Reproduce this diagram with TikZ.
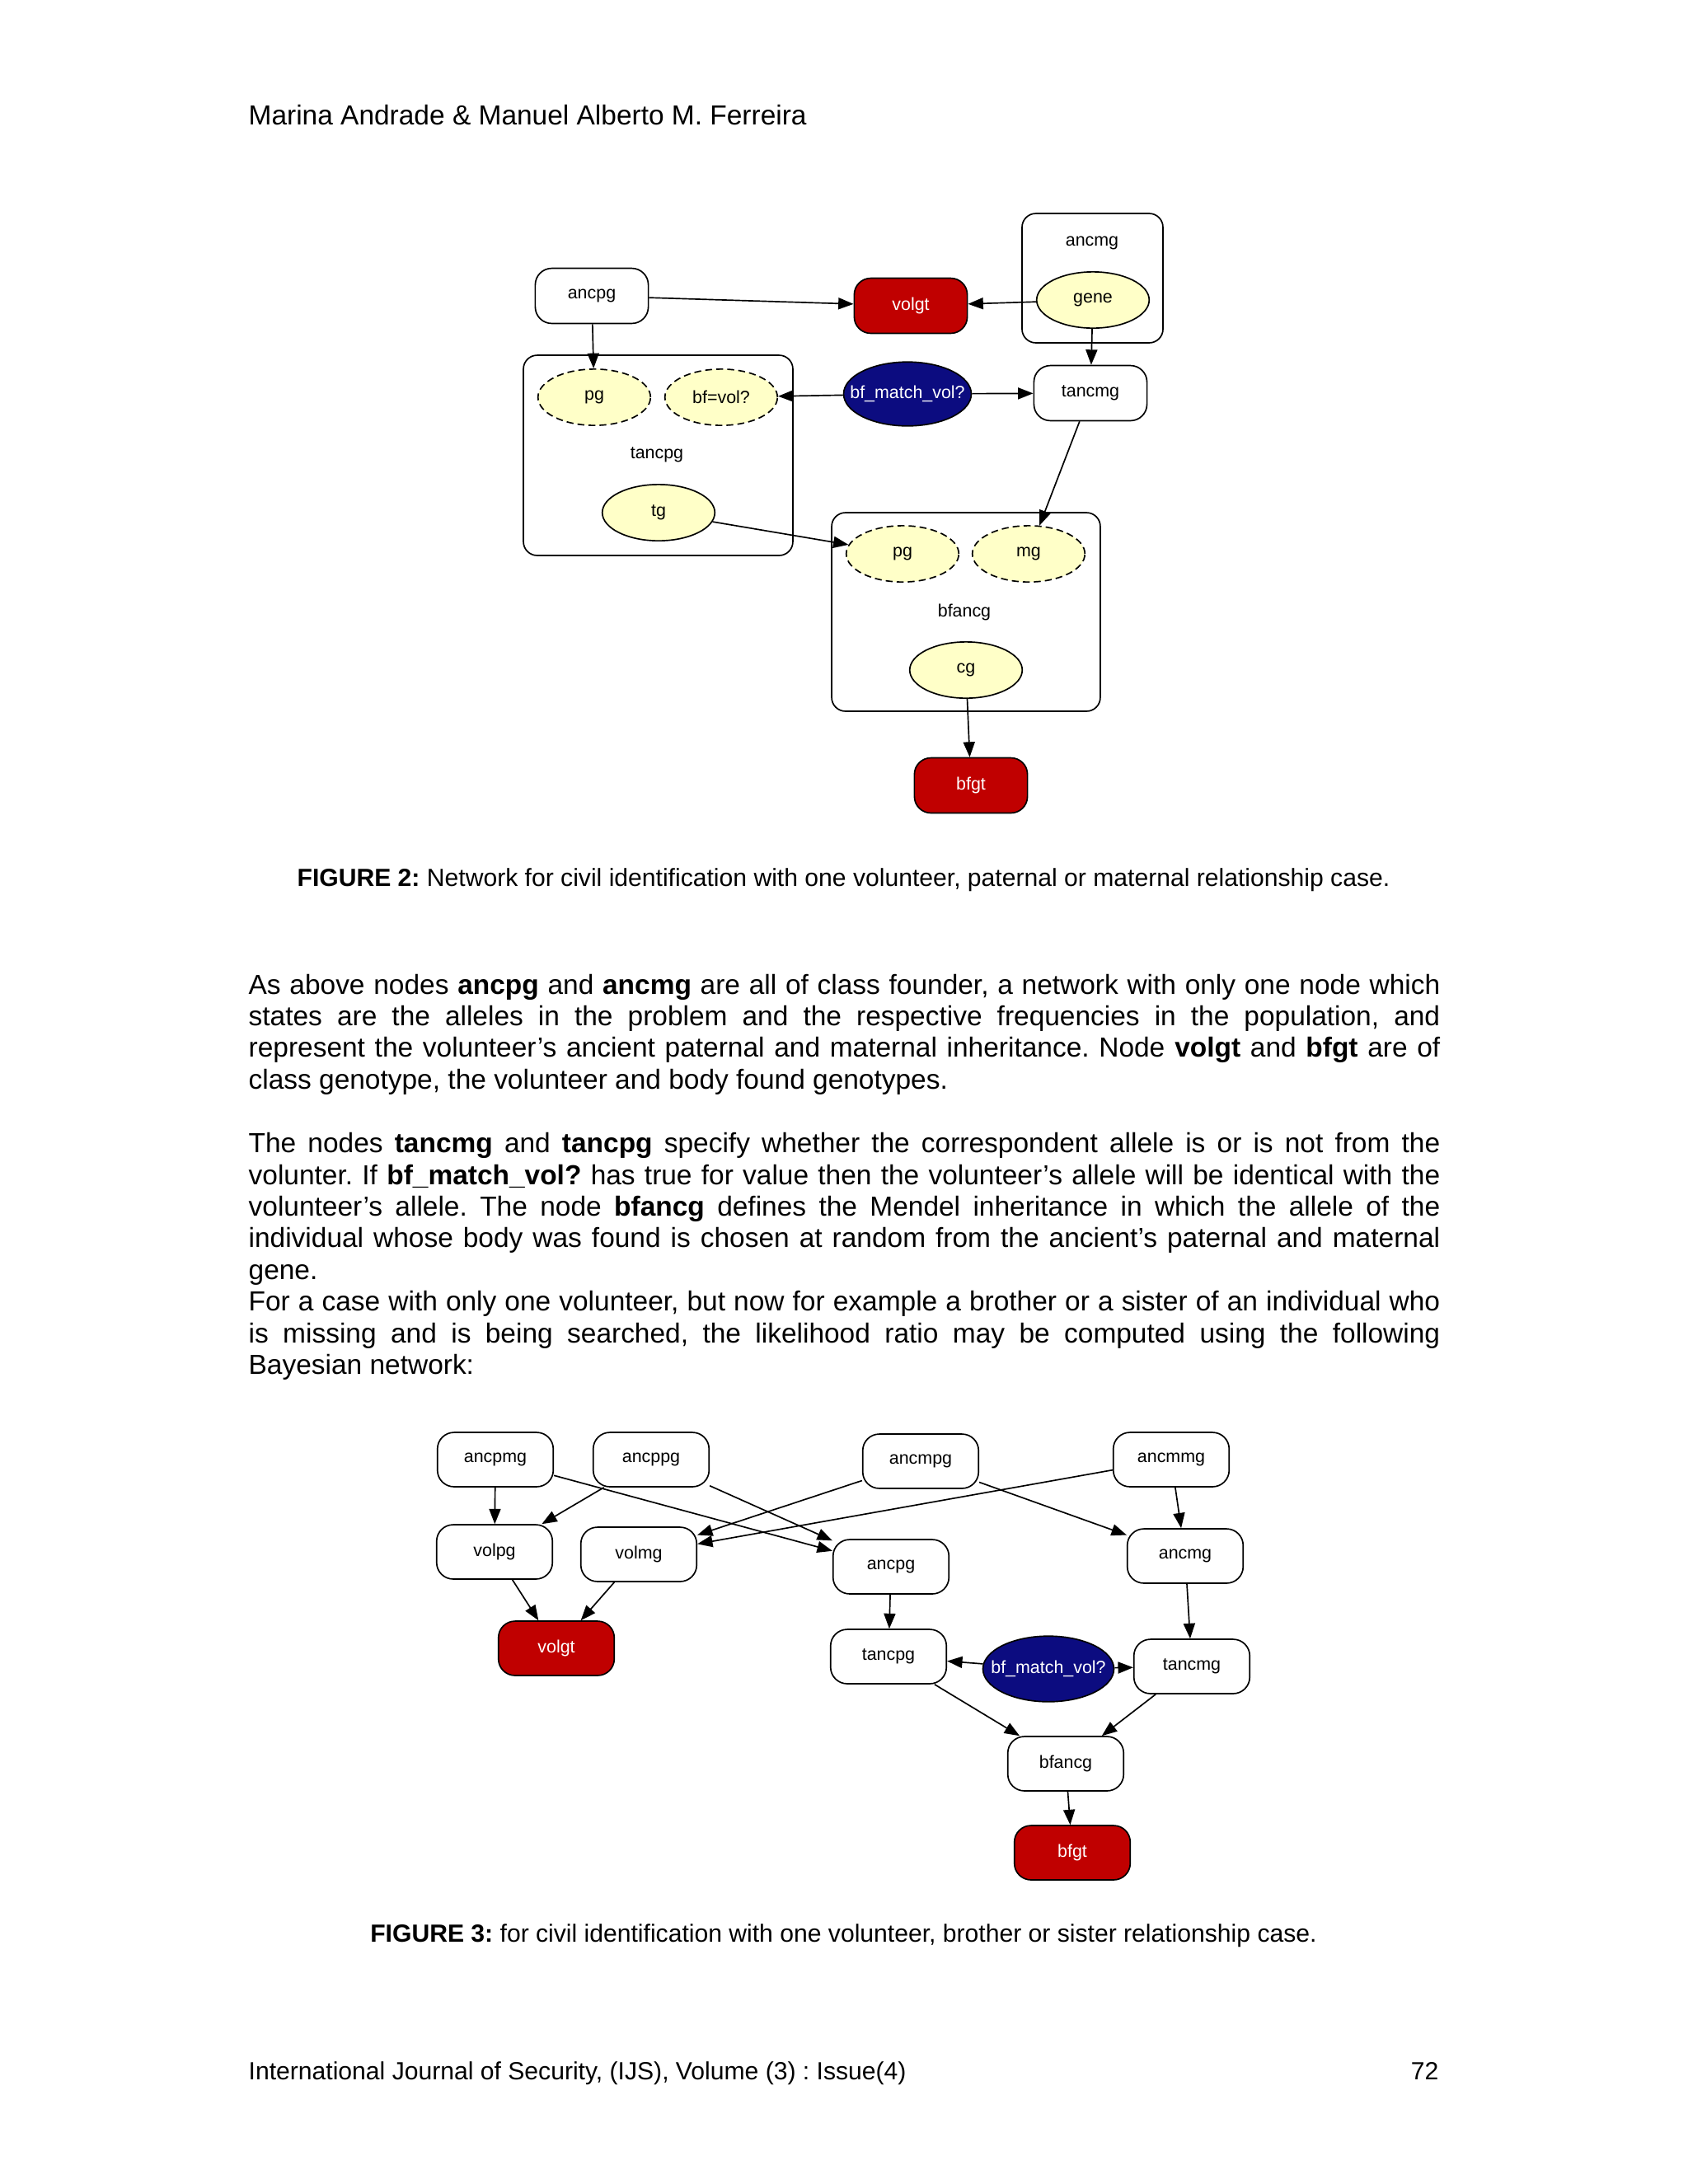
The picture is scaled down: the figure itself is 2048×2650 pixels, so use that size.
\documentclass[tikz,border=0pt]{standalone}
\usepackage{fontspec}
\setmainfont{Liberation Sans}
\usepackage{tikz}
\usetikzlibrary{shapes.geometric, arrows.meta, positioning}

\definecolor{gtred}{RGB}{192,0,0}
\definecolor{ctrlblue}{RGB}{12,12,128}
\definecolor{geneyellow}{RGB}{255,255,200}
\newcommand{\netfont}{\fontsize{6.4}{7.5}\selectfont}
\newcommand{\bodyfont}{\fontsize{10}{11.5}\selectfont}
\setlength{\parindent}{0pt}
\frenchspacing
\tolerance=10000
\hbadness=10000

\begin{document}
\begin{tikzpicture}[
    x=0.29883pt, y=-0.29883pt,
    netnode/.style={draw, line width=0.5pt, rectangle, rounded corners=6pt, minimum width=41pt, minimum height=20pt, inner sep=0pt, font=\netfont},
    gtnode/.style={netnode, fill=gtred, text=white},
    genenode/.style={draw, line width=0.5pt, ellipse, fill=geneyellow, minimum width=40.8pt, minimum height=20.4pt, inner sep=0pt, font=\netfont},
    dashgene/.style={genenode, dash pattern=on 2.5pt off 1.5pt},
    ctrlnode/.style={draw, line width=0.5pt, ellipse, fill=ctrlblue, text=white, minimum width=46.5pt, minimum height=23.5pt, inner xsep=-8pt, inner ysep=0pt, font=\netfont},
    classbox/.style={draw, line width=0.5pt, rectangle, rounded corners=5pt, inner sep=0pt},
    classlabel/.style={font=\netfont, inner sep=0pt},
    link/.style={line width=0.5pt, -{Triangle[length=5.5pt, width=4.2pt]}},
    bodytext/.style={anchor=base west, text width=432pt, align=justify, inner sep=0pt, font=\bodyfont},
    caption/.style={anchor=base, inner sep=0pt, font=\fontsize{9}{10.5}\selectfont}
]
    % Page
    \fill [white] (0,0) rectangle (2048,2650);
    \useasboundingbox (0,0) rectangle (2048,2650);

    % Running head and foot
    \node [anchor=base west, inner sep=0pt, font=\fontsize{10}{11.5}\selectfont] (head) at (301,151) {Marina Andrade \& Manuel Alberto M. Ferreira};
    \node [anchor=base west, inner sep=0pt, font=\fontsize{9}{10.5}\selectfont] (foot) at (301,2523) {International Journal of Security, (IJS), Volume (3) : Issue(4)};
    \node [anchor=base east, inner sep=0pt, font=\fontsize{9}{10.5}\selectfont] (pageno) at (1746,2523) {72};

    % Figure 2: class boxes
    \node [classbox, minimum width=51.1pt, minimum height=46.9pt] (d1ancmgbox) at (1325.5,337.5) {};
    \node [classlabel] (d1ancmglbl) at (1325,295) {ancmg};
    \node [classbox, minimum width=97.7pt, minimum height=72.6pt] (d1tancpgbox) at (798.5,552.5) {};
    \node [classlabel] (d1tancpglbl) at (797,552) {tancpg};
    \node [classbox, minimum width=97.4pt, minimum height=72pt] (d1bfancgbox) at (1172,742.5) {};
    \node [classlabel] (d1bfancglbl) at (1170,743) {bfancg};

    % Figure 2: nodes
    \node [netnode] (d1ancpg) at (718,359) {ancpg};
    \node [gtnode] (d1volgt) at (1105,371) {volgt};
    \node [genenode] (d1gene) at (1326,364) {gene};
    \node [netnode] (d1tancmg) at (1323,477) {tancmg};
    \node [ctrlnode, minimum width=46.3pt, minimum height=23.2pt] (d1match) at (1101,478) {bf\_match\_vol?};
    \node [dashgene] (d1pg) at (721,482) {pg};
    \node [dashgene] (d1bfvol) at (875,482) {bf=vol?};
    \node [genenode] (d1tg) at (799,622) {tg};
    \node [dashgene] (d1bfpg) at (1095,672) {pg};
    \node [dashgene] (d1bfmg) at (1248,672) {mg};
    \node [genenode] (d1cg) at (1172,813) {cg};
    \node [gtnode] (d1bfgt) at (1178,953) {bfgt};

    % Figure 2: links
    \draw [link] (d1ancpg) -- (d1volgt);
    \draw [link] (d1gene) -- (d1volgt);
    \draw [link] (d1ancpg) -- (d1pg);
    \draw [link] (d1gene) -- (d1tancmg);
    \draw [link] (d1match) -- (d1bfvol);
    \draw [link] (d1match) -- (d1tancmg);
    \draw [link] (d1tancmg) -- (d1bfmg);
    \draw [link] (d1tg) -- (d1bfpg);
    \draw [link] (d1cg) -- (d1bfgt);

    \node [caption] (cap2) at (1023.5,1075.7) {\textbf{FIGURE 2:} Network for civil identification with one volunteer, paternal or maternal relationship case.};

    % Body text
    \node [bodytext] (para1) at (301,1206) {As above nodes \textbf{ancpg} and \textbf{ancmg} are all of class founder, a network with only one node which\linebreak states are the alleles in the problem and the respective frequencies in the population, and\linebreak represent the volunteer’s ancient paternal and maternal inheritance. Node \textbf{volgt} and \textbf{bfgt} are of\linebreak class genotype, the volunteer and body found genotypes.};
    \node [bodytext] (para2) at (301,1398.5) {The nodes \textbf{tancmg} and \textbf{tancpg} specify whether the correspondent allele is or is not from the\linebreak volunter. If \textbf{bf\_match\_vol?} has true for value then the volunteer’s allele will be identical with the\linebreak volunteer’s allele. The node \textbf{bfancg} defines the Mendel inheritance in which the allele of the\linebreak individual whose body was found is chosen at random from the ancient’s paternal and maternal\linebreak gene.\par For a case with only one volunteer, but now for example a brother or a sister of an individual who\linebreak is missing and is being searched, the likelihood ratio may be computed using the following\linebreak Bayesian network:};

    % Figure 3: nodes
    \node [netnode, minimum width=42pt, minimum height=19.7pt] (d2ancpmg) at (601,1771) {ancpmg};
    \node [netnode, minimum width=42pt, minimum height=19.7pt] (d2ancppg) at (790,1771) {ancppg};
    \node [netnode, minimum width=42pt, minimum height=19.7pt] (d2ancmpg) at (1117,1773) {ancmpg};
    \node [netnode, minimum width=42pt, minimum height=19.7pt] (d2ancmmg) at (1421,1771) {ancmmg};
    \node [netnode, minimum width=42pt, minimum height=19.7pt] (d2volpg) at (600,1883) {volpg};
    \node [netnode, minimum width=42pt, minimum height=19.7pt] (d2volmg) at (775,1886) {volmg};
    \node [netnode, minimum width=42pt, minimum height=19.7pt] (d2ancpg) at (1081,1901) {ancpg};
    \node [netnode, minimum width=42pt, minimum height=19.7pt] (d2ancmg) at (1438,1888) {ancmg};
    \node [gtnode, minimum width=42pt, minimum height=19.7pt] (d2volgt) at (675,2000) {volgt};
    \node [netnode, minimum width=42pt, minimum height=19.7pt] (d2tancpg) at (1078,2010) {tancpg};
    \node [ctrlnode, minimum width=47.5pt, minimum height=23.8pt] (d2match) at (1272,2025) {bf\_match\_vol?};
    \node [netnode, minimum width=42pt, minimum height=19.7pt] (d2tancmg) at (1446,2022) {tancmg};
    \node [netnode, minimum width=42pt, minimum height=19.7pt] (d2bfancg) at (1293,2140) {bfancg};
    \node [gtnode, minimum width=42pt, minimum height=19.7pt] (d2bfgt) at (1301,2248) {bfgt};

    % Figure 3: links
    \draw [link] (d2ancpmg) -- (d2volpg);
    \draw [link] (d2ancppg) -- (d2volpg);
    \draw [link] (d2ancpmg) -- (d2ancpg);
    \draw [link] (d2ancppg) -- (d2ancpg);
    \draw [link] (d2ancmpg) -- (d2volmg);
    \draw [link] (d2ancmmg) -- (d2volmg);
    \draw [link] (d2ancmpg) -- (d2ancmg);
    \draw [link] (d2ancmmg) -- (d2ancmg);
    \draw [link] (d2volpg) -- (d2volgt);
    \draw [link] (d2volmg) -- (d2volgt);
    \draw [link] (d2ancpg) -- (d2tancpg);
    \draw [link] (d2ancmg) -- (d2tancmg);
    \draw [link] (d2match) -- (d2tancpg);
    \draw [link] (d2match) -- (d2tancmg);
    \draw [link] (d2tancpg) -- (d2bfancg);
    \draw [link] (d2tancmg) -- (d2bfancg);
    \draw [link] (d2bfancg) -- (d2bfgt);

    \node [caption] (cap3) at (1023.5,2356.5) {\textbf{FIGURE 3:} for civil identification with one volunteer, brother or sister relationship case.};

\end{tikzpicture}
\end{document}
